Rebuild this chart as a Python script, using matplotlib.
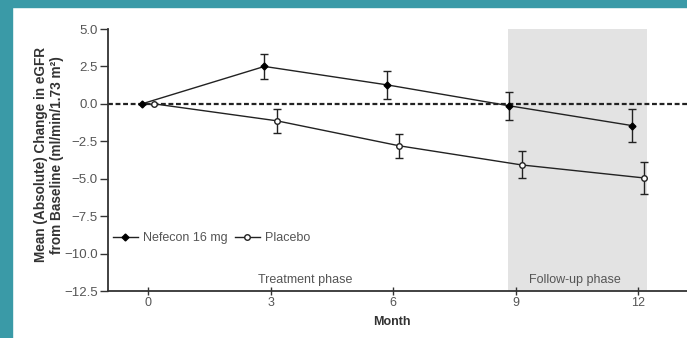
import numpy as np
import matplotlib.pyplot as plt
from matplotlib.patches import Rectangle
from matplotlib.lines import Line2D

plt.rcParams['font.family'] = ['Liberation Sans', 'DejaVu Sans']

months = [0, 3, 6, 9, 12]
nefecon = [0.0, 2.5, 1.27, -0.13, -1.45]
nefecon_err = [0.0, 0.85, 0.95, 0.95, 1.1]
placebo = [0.0, -1.13, -2.8, -4.08, -4.95]
placebo_err = [0.0, 0.8, 0.8, 0.9, 1.05]
yticks = [5.0, 2.5, 0.0, -2.5, -5.0, -7.5, -10.0, -12.5]
ytick_labels = ["5.0", "2.5", "0.0", "\u22122.5", "\u22125.0", "\u22127.5", "\u221210.0", "\u221212.5"]

teal = "#3a9aa7"
grey_txt = "#555555"
fs = 9

fig = plt.figure(figsize=(6.87, 3.38), dpi=100)
fig.patch.set_facecolor("white")
# teal frame on left and top
fig.patches.append(Rectangle((0, 0), 12 / 687, 1, transform=fig.transFigure,
                             color=teal, zorder=0))
fig.patches.append(Rectangle((0, 1 - 7 / 338), 1, 7 / 338, transform=fig.transFigure,
                             color=teal, zorder=0))

ax = fig.add_axes([108 / 687, 47 / 338, 1 - 108 / 687, 262 / 338])
ax.set_xlim(-0.98, 13.2)
ax.set_ylim(-12.5, 5.0)

ax.axvspan(8.82, 12.23, color="#e3e3e3", lw=0, zorder=0)
ax.axhline(0, color="#222222", ls=(0, (2.2, 1.2)), lw=1.6, zorder=1)

off = 0.15
x = np.array(months)
ax.errorbar(x - off, nefecon, yerr=nefecon_err, color="#222222", lw=1.0,
            marker="D", ms=3.5, mfc="black", mec="black", capsize=3, capthick=1.0,
            elinewidth=1.0, zorder=3)
ax.errorbar(x + off, placebo, yerr=placebo_err, color="#222222", lw=1.0,
            marker="o", ms=4, mfc="white", mec="#222222", capsize=3, capthick=1.0,
            elinewidth=1.0, zorder=3)

ax.set_yticks(yticks)
ax.set_yticklabels(ytick_labels)
ax.set_xticks(months)
ax.tick_params(axis="y", direction="out", length=6, width=1, labelsize=9.5,
               colors="#333333", labelcolor=grey_txt, pad=1.5)
ax.tick_params(axis="x", direction="inout", length=6, width=1, labelsize=fs,
               colors="#333333", labelcolor=grey_txt, pad=1)
for s in ["top", "right"]:
    ax.spines[s].set_visible(False)
for s in ["left", "bottom"]:
    ax.spines[s].set_color("#333333")
    ax.spines[s].set_linewidth(1.3)

ax.set_xlabel("Month", fontsize=fs, fontweight="bold", color="#333333")
ax.xaxis.set_label_coords((392 - 108) / (687 - 108), -0.095)
ax.set_ylabel("Mean (Absolute) Change in eGFR\nfrom Baseline (ml/min/1.73 m\u00b2)",
              fontsize=9.8, fontweight="bold", color="#333333", linespacing=1.2)
ax.yaxis.set_label_coords(-0.076, 0.52)

ax.text(3.85, -11.75, "Treatment phase", fontsize=fs, color=grey_txt, ha="center", va="center")
ax.text(10.45, -11.75, "Follow-up phase", fontsize=fs, color=grey_txt, ha="center", va="center")

handles = [
    Line2D([], [], color="#222222", lw=1.0, marker="D", ms=3.5, mfc="black", mec="black"),
    Line2D([], [], color="#222222", lw=1.0, marker="o", ms=4, mfc="white", mec="#222222"),
]
ax.legend(handles, ["Nefecon 16 mg", "Placebo"], loc="center left",
          bbox_to_anchor=(-0.005, 53 / 262), ncol=2, frameon=False,
          fontsize=fs, handlelength=2.0, handletextpad=0.4, columnspacing=0.6,
          labelcolor=grey_txt, borderaxespad=0.2)

fig.savefig("out.png", dpi=100)
